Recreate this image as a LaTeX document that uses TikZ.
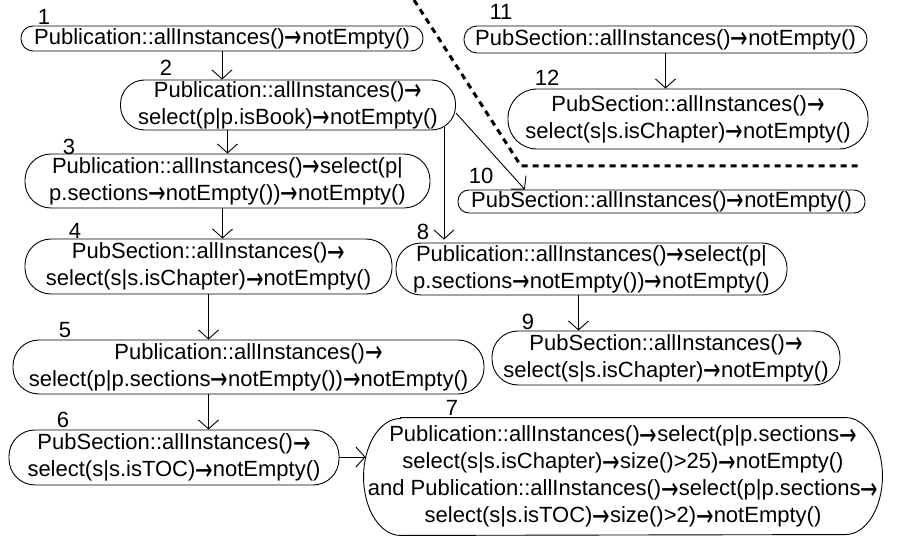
\documentclass[tikz,border=0pt]{standalone}
\usepackage{graphicx}
\usepackage{fontspec}
\setmainfont{Liberation Sans}
\newfontfamily\arrowfont{DejaVu Sans}
\newcommand{\rarr}{\raisebox{-3.5pt}{\scalebox{0.95}[1.4]{\arrowfont →}}}
\usetikzlibrary{arrows.meta}

\tikzset{
  pill/.style={draw,rounded corners=#1,align=center,inner sep=0pt,line width=0.9pt,font=\fontsize{22}{27}\selectfont},
  num/.style={inner sep=0pt,font=\fontsize{22}{27}\selectfont},
  flow/.style={line width=0.9pt,-{Straight Barb[length=9pt,width=20pt,line width=0.9pt]}},
  fence/.style={line width=3pt,dash pattern=on 6pt off 5pt}
}

\begin{document}
\begin{tikzpicture}
  \useasboundingbox (0pt,0pt) rectangle (903pt,-540pt);

  \node[pill=12pt,minimum width=402pt,minimum height=25pt,xshift=222pt,yshift=-38.5pt](n1){Publication::allInstances()\rarr notEmpty()};
  \node[pill=24pt,minimum width=335pt,minimum height=50pt,xshift=288pt,yshift=-105pt](n2){Publication::allInstances()\rarr\\select(p|p.isBook)\rarr notEmpty()};
  \node[pill=26pt,minimum width=405pt,minimum height=54pt,xshift=227.5pt,yshift=-181pt](n3){Publication::allInstances()\rarr select(p|\\p.sections\rarr notEmpty())\rarr notEmpty()};
  \node[pill=26pt,minimum width=367pt,minimum height=55pt,xshift=208.5pt,yshift=-266.5pt](n4){PubSection::allInstances()\rarr\\select(s|s.isChapter)\rarr notEmpty()};
  \node[pill=26pt,minimum width=471pt,minimum height=54pt,xshift=248.5pt,yshift=-367pt](n5){Publication::allInstances()\rarr\\select(p|p.sections\rarr notEmpty())\rarr notEmpty()};
  \node[pill=26pt,minimum width=330pt,minimum height=55pt,xshift=174pt,yshift=-457.5pt](n6){PubSection::allInstances()\rarr\\select(s|s.isTOC)\rarr notEmpty()};
  \node[pill=0pt,draw=none,minimum width=518pt,minimum height=117pt,xshift=623pt,yshift=-476.5pt](n7){Publication::allInstances()\rarr select(p|p.sections\rarr\\select(s|s.isChapter)\rarr size()>25)\rarr notEmpty()\\and Publication::allInstances()\rarr select(p|p.sections\rarr\\select(s|s.isTOC)\rarr size()>2)\rarr notEmpty()};
  \node[pill=25pt,minimum width=391pt,minimum height=52pt,xshift=591.5pt,yshift=-269pt](n8){Publication::allInstances()\rarr select(p|\\p.sections\rarr notEmpty())\rarr notEmpty()};
  \node[pill=26pt,minimum width=348pt,minimum height=54pt,xshift=666pt,yshift=-358pt](n9){PubSection::allInstances()\rarr\\select(s|s.isChapter)\rarr notEmpty()};
  \node[pill=11pt,minimum width=407pt,minimum height=23pt,xshift=661.5pt,yshift=-201.5pt](n10){PubSection::allInstances()\rarr notEmpty()};
  \node[pill=13pt,minimum width=403pt,minimum height=27pt,xshift=665.5pt,yshift=-39.5pt](n11){PubSection::allInstances()\rarr notEmpty()};
  \node[pill=29pt,minimum width=360pt,minimum height=60pt,xshift=688pt,yshift=-119pt](n12){PubSection::allInstances()\rarr\\select(s|s.isChapter)\rarr notEmpty()};

  % outline of 7 with oval ends
  \draw[line width=0.9pt] ([xshift=37pt]n7.north west) -- ([xshift=-37pt]n7.north east)
    arc[start angle=90,end angle=-90,x radius=37pt,y radius=58.5pt]
    -- ([xshift=37pt]n7.south west)
    arc[start angle=270,end angle=90,x radius=37pt,y radius=58.5pt] -- cycle;

  \node[num,xshift=44pt,yshift=-17pt](l1){1};
  \node[num,xshift=166pt,yshift=-68pt](l2){2};
  \node[num,xshift=69pt,yshift=-147pt](l3){3};
  \node[num,xshift=75pt,yshift=-231pt](l4){4};
  \node[num,xshift=65pt,yshift=-330pt](l5){5};
  \node[num,xshift=63pt,yshift=-420pt](l6){6};
  \node[num,xshift=452pt,yshift=-408pt](l7){7};
  \node[num,xshift=423pt,yshift=-232pt](l8){8};
  \node[num,xshift=528pt,yshift=-322pt](l9){9};
  \node[num,xshift=481pt,yshift=-176pt](l10){10};
  \node[num,xshift=501pt,yshift=-12pt](l11){11};
  \node[num,xshift=547pt,yshift=-78pt](l12){12};

  \draw[flow] (n1.south) -- (n1.south |- n2.north);
  \draw[flow] (n2.south -| n3.north) -- (n3.north);
  \draw[flow] ([xshift=-5pt]n3.south) -- ([xshift=-5pt]n3.south |- n4.north);
  \draw[flow] (n4.south) -- (n4.south |- n5.north);
  \draw[flow] (n5.south -| n4.south) -- (n6.north -| n4.south);
  \draw[flow] (n6.east |- 0,-457pt) -- ([xshift=2pt]n7.west |- 0,-457pt);
  \draw[flow] ([shift={(-12pt,3pt)}]n2.south east) -- ([shift={(-12pt,3pt)}]n2.south east |- n8.north);
  \draw[flow] ([yshift=-8pt]n2.east) -- (n10.175.5);
  \draw[flow] ([xshift=-13pt]n8.south) -- ([xshift=-13pt]n8.south |- n9.north);
  \draw[flow] (n11.south) -- (n11.south |- n12.north);

  \draw[fence] (414pt,0pt) -- (521pt,-166pt) -- (861pt,-166pt);
\end{tikzpicture}
\end{document}
